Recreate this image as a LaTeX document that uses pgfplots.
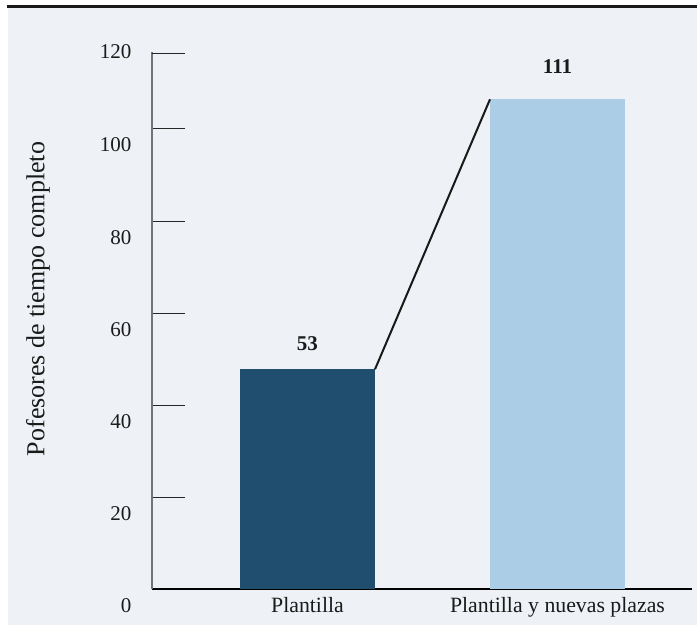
\documentclass[border=0pt]{standalone}
\usepackage{pgfplots}
\pgfplotsset{compat=1.18}
\usepackage{fontspec}
\setmainfont{Liberation Serif}
\definecolor{bgpanel}{HTML}{EEF2F6}
\definecolor{darkbar}{HTML}{1F4E6E}
\definecolor{lightbar}{HTML}{ABCDE6}
\definecolor{txt}{HTML}{1A1A1A}
\begin{document}
\begin{tikzpicture}
\path[use as bounding box] (0pt,0pt) rectangle (697pt,625pt);
\fill[white] (0pt,0pt) rectangle (697pt,625pt);
\fill[bgpanel] (8pt,0pt) rectangle (697pt,617pt);
\draw[black!90, line width=3pt] (7pt,618pt) -- (697pt,618pt);
\begin{axis}[
  at={(152pt,36pt)}, anchor=south west,
  scale only axis, width=540pt, height=537pt,
  xmin=-0.622, xmax=1.538,
  ymin=5.8, ymax=121.16,
  axis x line*=bottom, axis y line*=left,
  x axis line style={black, line width=1.2pt},
  y axis line style={black!55, line width=1.8pt},
  xtick={0,1},
  xticklabels={Plantilla, Plantilla y nuevas plazas},
  major x tick style={draw=none},
  xticklabel style={font=\fontsize{21.8}{24}\selectfont, text=txt, yshift=-5pt},
  ytick={5.8,25.56,45.33,65.09,84.85,104.83},
  yticklabels={0,20,40,60,80,100},
  extra y ticks={120.9},
  extra y tick labels={120},
  extra y tick style={yticklabel style={yshift=19pt}},
  ytick align=inside,
  major tick length=33pt,
  y tick style={black!85, line width=0.8pt},
  yticklabel style={font=\fontsize{21}{24}\selectfont, text=txt, anchor=east, xshift=-17pt, yshift=-17pt},
  /pgf/number format/assume math mode=true,
  ylabel={Pofesores de tiempo completo},
  ylabel style={font=\fontsize{26}{30}\selectfont, text=txt, at={(axis description cs:-0.211,0.54)}, anchor=center},
  clip=true,
]
\addplot[ybar, bar width=135pt, bar shift=0pt, fill=darkbar, draw=none] coordinates {(0,53)};
\addplot[ybar, bar width=135pt, bar shift=0pt, fill=lightbar, draw=none] coordinates {(1,111)};
\addplot[black!90, line width=2pt] coordinates {(0.27,53) (0.73,111)};
\node[anchor=base, font=\bfseries\fontsize{21}{24}\selectfont, text=txt, yshift=19pt] at (axis cs:0,53) {53};
\node[anchor=base, font=\bfseries\fontsize{21}{24}\selectfont, text=txt, yshift=26pt] at (axis cs:1,111) {111};
\end{axis}
\end{tikzpicture}
\end{document}
